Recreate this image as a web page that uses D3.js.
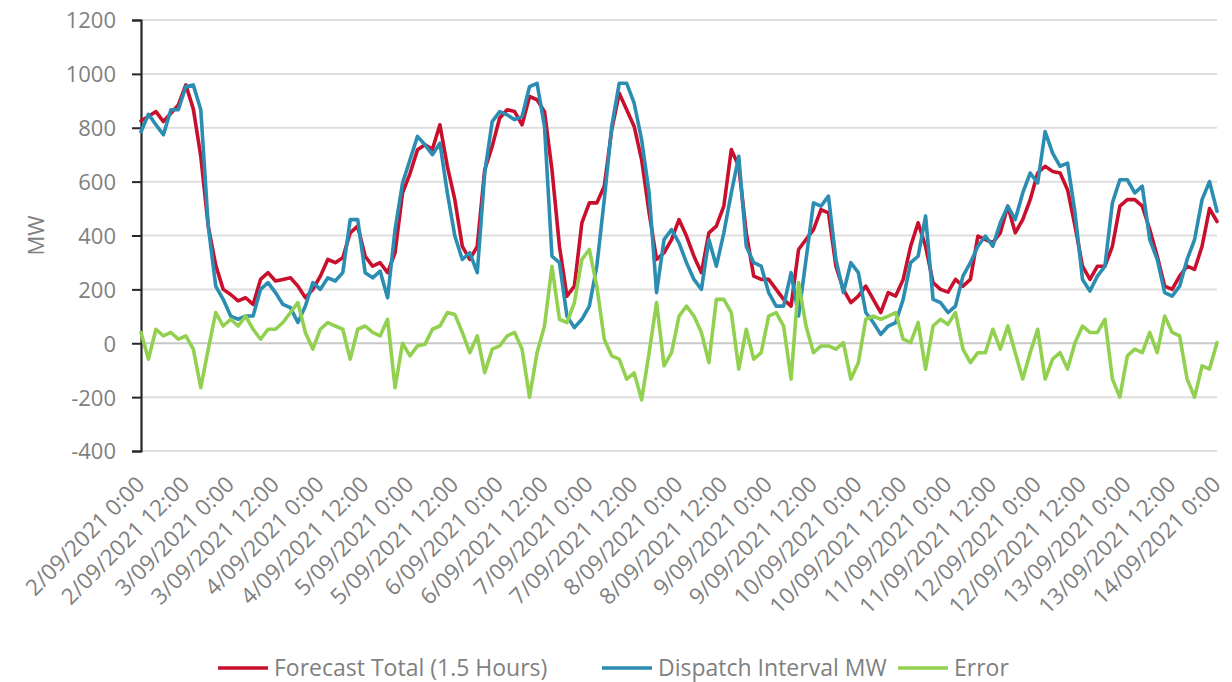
<!DOCTYPE html>
<html>
<head>
<meta charset="utf-8">
<script src="https://cdn.jsdelivr.net/npm/d3@7"></script>
<style>
  body { margin: 0; background: #ffffff; }
  svg text { font-family: "Open Sans", "Noto Sans", sans-serif; fill: #7f7f7f; }
</style>
</head>
<body>
<svg id="chart" width="1232" height="682"></svg>
<script>
// Half-day ticks from 2/09/2021 0:00 to 14/09/2021 0:00; readings every 2 hours.
const startTime = new Date(2021, 8, 2, 0, 0);
const endTime = new Date(2021, 8, 14, 0, 0);
const stepHours = 2;

const forecastTotal = [
  826, 842, 860, 823, 854, 885, 959, 870, 694, 435, 290, 200, 181, 157, 169, 144,
  237, 262, 231, 237, 243, 212, 169, 200, 249, 311, 299, 317, 410, 435, 323, 286,
  299, 262, 336, 558, 630, 718, 737, 720, 811, 657, 533, 360, 311, 360, 644, 731,
  836, 867, 860, 811, 916, 904, 860, 644, 360, 175, 212, 447, 521, 521, 583, 793,
  928, 867, 805, 681, 484, 311, 336, 385, 459, 398, 323, 262, 410, 435, 509, 719,
  657, 410, 249, 237, 237, 200, 163, 138, 348, 385, 422, 496, 484, 286, 200, 151,
  175, 212, 163, 114, 188, 175, 237, 360, 447, 360, 225, 200, 190, 237, 212, 237,
  398, 385, 373, 410, 509, 410, 459, 533, 632, 657, 638, 632, 570, 435, 286, 237,
  286, 286, 360, 509, 533, 533, 509, 422, 323, 212, 200, 249, 286, 274, 360, 500,
  452
];

const dispatchMW = [
  785, 850, 811, 774, 867, 867, 953, 959, 867, 435, 212, 163, 101, 89, 101, 101,
  200, 225, 188, 144, 132, 77, 138, 225, 200, 243, 231, 262, 459, 459, 262, 243,
  268, 169, 422, 595, 681, 768, 737, 700, 743, 558, 398, 311, 336, 262, 632, 823,
  860, 848, 830, 842, 953, 965, 805, 323, 299, 101, 58, 89, 138, 286, 533, 805,
  965, 965, 891, 755, 558, 188, 385, 422, 373, 299, 237, 200, 385, 286, 410, 558,
  694, 360, 299, 286, 188, 138, 138, 262, 101, 311, 521, 509, 546, 311, 188, 299,
  262, 114, 77, 33, 64, 77, 163, 299, 323, 472, 163, 151, 114, 138, 249, 299,
  360, 398, 360, 447, 509, 459, 558, 632, 595, 786, 706, 657, 669, 484, 237, 194,
  249, 286, 521, 607, 607, 558, 583, 385, 311, 188, 175, 212, 311, 385, 533, 600,
  490
];

const errorMW = [
  40, -59, 52, 27, 40, 15, 27, -22, -165, -22, 114, 64, 89, 64, 101, 52,
  15, 52, 52, 77, 114, 151, 40, -22, 52, 77, 64, 52, -59, 52, 64, 40,
  27, 89, -165, 0, -47, -10, -4, 52, 64, 114, 107, 40, -35, 27, -109, -22,
  -10, 27, 40, -22, -200, -35, 64, 286, 89, 77, 151, 311, 348, 212, 15, -47,
  -59, -133, -110, -210, -35, 151, -84, -35, 100, 138, 101, 40, -72, 163, 163, 114,
  -96, 52, -59, -35, 101, 114, 64, -133, 225, 64, -35, -10, -10, -22, 2, -133,
  -72, 89, 101, 89, 101, 114, 15, 2, 77, -96, 64, 89, 70, 114, -22, -72,
  -35, -35, 52, -22, 64, -35, -133, -35, 52, -133, -59, -35, -96, 2, 64, 40,
  40, 89, -133, -200, -47, -22, -35, 40, -35, 101, 40, 27, -133, -200, -84, -96,
  2
];

const yTicks = [-400, -200, 0, 200, 400, 600, 800, 1000, 1200];
const seriesNames = ["Forecast Total (1.5 Hours)", "Dispatch Interval MW", "Error"];
const seriesColors = ["#c8102e", "#2a8db1", "#92d050"];

const margin = { left: 141, right: 15, top: 20, bottom: 231 };
const width = 1232, height = 682;

const svg = d3.select("#chart");

const x = d3.scaleTime()
  .domain([startTime, endTime])
  .range([margin.left, width - margin.right]);

const y = d3.scaleLinear()
  .domain([-400, 1200])
  .range([height - margin.bottom, margin.top]);

const timeAt = i => d3.timeHour.offset(startTime, i * stepHours);

// Horizontal gridlines
svg.append("g")
  .selectAll("line")
  .data(yTicks)
  .join("line")
  .attr("x1", margin.left)
  .attr("x2", width - margin.right)
  .attr("y1", d => y(d))
  .attr("y2", d => y(d))
  .attr("stroke", d => d === 0 ? "#c8c8c8" : "#dedede")
  .attr("stroke-width", 2);

// Y axis (plain hyphen for negative values)
const yAxis = d3.axisLeft(y)
  .tickValues(yTicks)
  .tickSize(9)
  .tickPadding(16)
  .tickFormat(d => String(d));

const yG = svg.append("g")
  .attr("transform", `translate(${margin.left},0)`)
  .call(yAxis);
yG.select(".domain").attr("stroke", "#262626").attr("stroke-width", 2.2);
yG.selectAll(".tick line").attr("stroke", "#262626").attr("stroke-width", 2);
yG.selectAll(".tick text")
  .attr("fill", "#7f7f7f")
  .style("font-size", "22px")
  .attr("dy", "0.36em");

// Y axis title
svg.append("text")
  .attr("transform", `translate(44,${y(400)}) rotate(-90)`)
  .attr("text-anchor", "middle")
  .style("font-size", "22px")
  .text("MW");

// X tick labels, every 12 hours, rotated
const xTicks = d3.timeHour.every(12).range(startTime, d3.timeHour.offset(endTime, 1));
const fmt = d3.timeFormat("%-d/%m/%Y %-H:%M");

svg.append("g")
  .selectAll("text")
  .data(xTicks)
  .join("text")
  .attr("transform", d => `translate(${x(d) + 5},${y(-400) + 35}) rotate(-45)`)
  .attr("text-anchor", "end")
  .style("font-size", "22.5px")
  .text(d => fmt(d));

// Series lines
const line = d3.line()
  .x((d, i) => x(timeAt(i)))
  .y(d => y(d));

[forecastTotal, dispatchMW, errorMW].forEach((series, k) => {
  svg.append("path")
    .datum(series)
    .attr("fill", "none")
    .attr("stroke", seriesColors[k])
    .attr("stroke-width", 3.6)
    .attr("stroke-linejoin", "round")
    .attr("stroke-linecap", "round")
    .attr("d", line);
});

// Legend
const legendStarts = [218, 602, 898];
const legend = svg.append("g");
seriesNames.forEach((name, k) => {
  const g = legend.append("g").attr("transform", `translate(${legendStarts[k]},668)`);
  g.append("line")
    .attr("x1", 0).attr("x2", 50)
    .attr("y1", 0).attr("y2", 0)
    .attr("stroke", seriesColors[k])
    .attr("stroke-width", 3.6);
  g.append("text")
    .attr("x", 56)
    .attr("dy", "0.36em")
    .style("font-size", "23px")
    .text(name);
});
</script>
</body>
</html>
